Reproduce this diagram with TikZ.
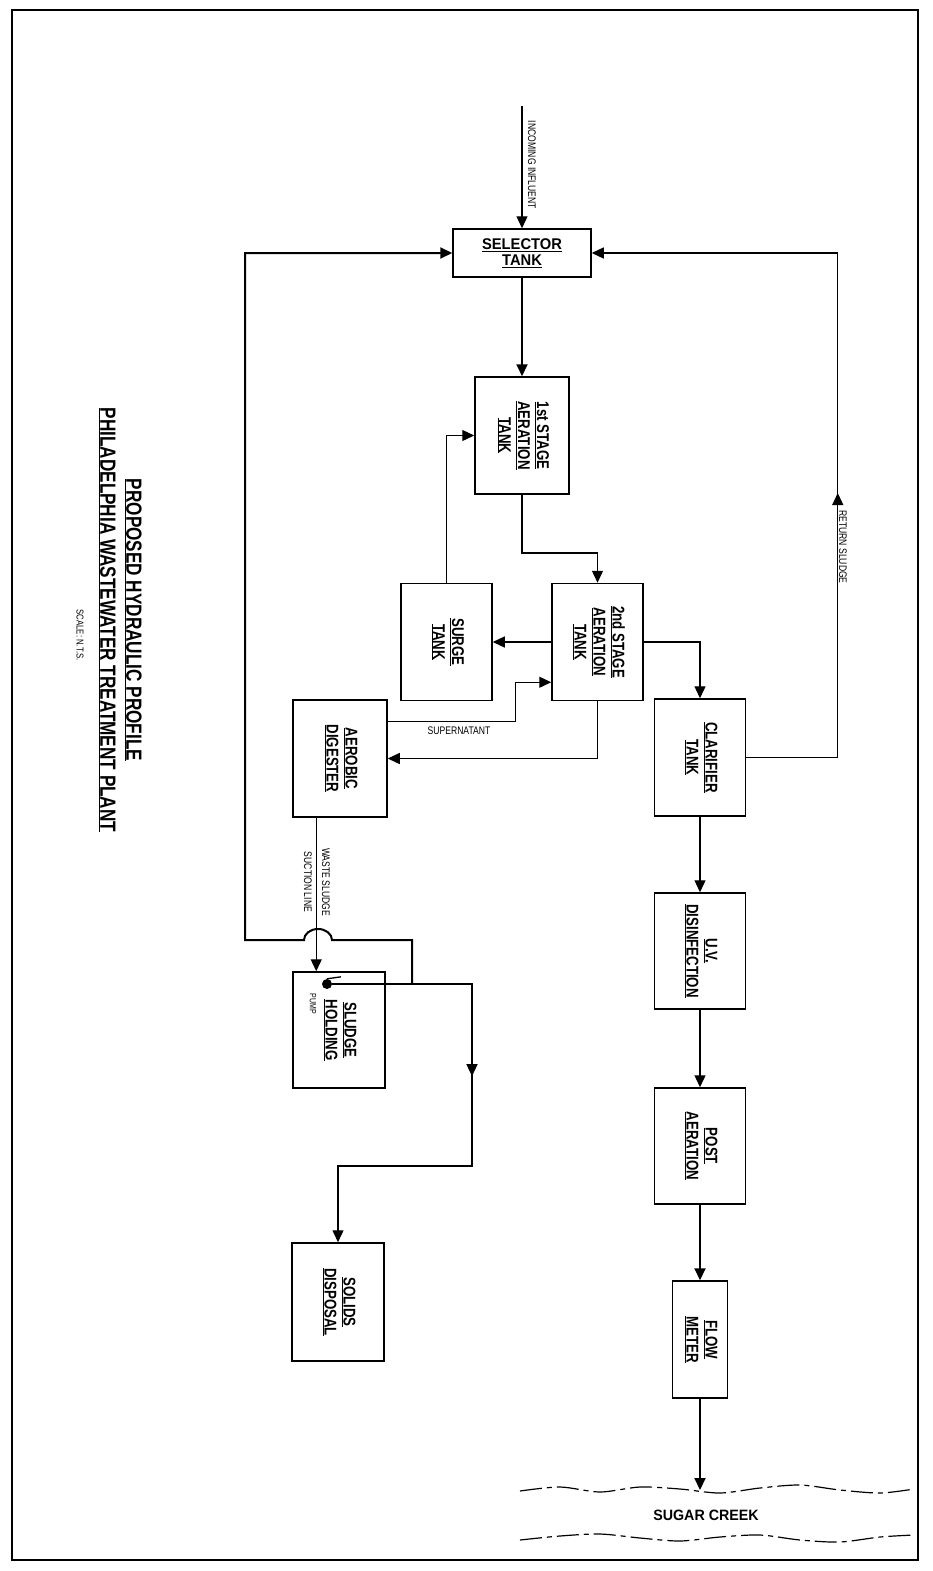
\documentclass[tikz,border=0pt]{standalone}
\usepackage{fontspec}
\setmainfont{Liberation Sans}
\newfontfamily\cad[FakeStretch=0.78]{Liberation Sans}
\newfontfamily\cadw[FakeStretch=0.95]{Liberation Sans}
\usetikzlibrary{arrows.meta,calc,decorations.markings}
\newcommand{\vlab}[1]{\rotatebox{-90}{\cad\bfseries\fontsize{17}{19}\selectfont\begin{tabular}{@{}c@{}}#1\end{tabular}}}
\newcommand{\rlab}[1]{\rotatebox{-90}{#1}}
\begin{document}
\begin{tikzpicture}[x=1pt,y=-1pt,
  box/.style={draw, line width=1.5pt, inner sep=0pt, align=center},
  conn/.style={line width=1.3pt},
  thk/.style={line width=2pt},
  arr/.style={-{Triangle[length=12pt,width=11pt]}},
  lab/.style={font=\cad\fontsize{11}{12}\selectfont, inner sep=0pt},
  midarrow/.style={postaction={decorate}, decoration={markings, mark=at position #1 with {\arrow{Triangle[length=12pt,width=11pt]}}}},
  wave/.style={line width=1.2pt, dash pattern=on 22pt off 5pt on 5pt off 5pt}]
\useasboundingbox (0,0) rectangle (932,1571);
\draw[line width=1.5pt] (12,10) rectangle (918,1560);

% title
\node[inner sep=0pt, font=\cad\bfseries\fontsize{22}{24}\selectfont] (t1) at (133,620) {\rlab{\underline{PROPOSED HYDRAULIC PROFILE}}};
\node[inner sep=0pt, font=\cad\bfseries\fontsize{22}{24}\selectfont] (t2) at (107,620) {\rlab{\underline{PHILADELPHIA WASTEWATER TREATMENT PLANT}}};
\node[inner sep=0pt, font=\cad\fontsize{10}{11}\selectfont] (t3) at (80,635) {\rlab{SCALE: N.T.S.}};

% boxes
\node[box, minimum width=138pt, minimum height=48pt, font=\cadw\bfseries\fontsize{15.5}{16}\selectfont] (sel) at (522,253) {\underline{SELECTOR}\\\underline{TANK}};
\node[box, minimum width=94pt, minimum height=117pt] (st1) at (522,435.5) {\vlab{\underline{1st STAGE}\\\underline{AERATION}\\\underline{TANK}}};
\node[box, minimum width=91pt, minimum height=117pt] (st2) at (597.5,642) {\vlab{\underline{2nd STAGE}\\\underline{AERATION}\\\underline{TANK}}};
\node[box, minimum width=91pt, minimum height=117pt] (surge) at (446.5,642) {\vlab{\underline{SURGE}\\\underline{TANK}}};
\node[box, minimum width=94pt, minimum height=117pt] (dig) at (340,758.5) {\vlab{\underline{AEROBIC}\\\underline{DIGESTER}}};
\node[box, minimum width=91pt, minimum height=117pt] (clar) at (700,757.5) {\vlab{\underline{CLARIFIER}\\\underline{TANK}}};
\node[box, minimum width=91pt, minimum height=116pt] (uv) at (700,951) {\vlab{\underline{U.V.}\\\underline{DISINFECTION}}};
\node[box, minimum width=91pt, minimum height=116pt] (post) at (700,1146) {\vlab{\underline{POST}\\\underline{AERATION}}};
\node[box, minimum width=55pt, minimum height=117pt] (flow) at (700,1339.5) {\vlab{\underline{FLOW}\\\underline{METER}}};
\node[box, minimum width=92pt, minimum height=116pt] (hold) at (339,1030) {\vlab{\underline{SLUDGE}\\\underline{HOLDING}}};
\node[box, minimum width=92pt, minimum height=118pt] (solids) at (338,1302) {\vlab{\underline{SOLIDS}\\\underline{DISPOSAL}}};

% coordinates
\coordinate (infl) at (522,106);
\coordinate (j1) at (560,553);
\coordinate (creek) at (700,1490);
\coordinate (sup1) at ($(dig.north east)+(0,22)$);
\coordinate (sup2) at ($(st2.south west)+(0,-19)$);
\coordinate (ws) at ($(dig.south west)+(24,0)$);
\coordinate (pj) at (472,984);
\coordinate (pk) at (472,1166);
\coordinate (sj) at (412,984);
\coordinate (hopR) at (332,940);
\coordinate (lc) at (245,940);

% pump
\node[circle, fill, inner sep=0pt, minimum size=10pt] (pump) at (327,984) {};
\draw[line width=1.3pt] (pump.north) -- ++(14,-2);
\node[lab, font=\cad\fontsize{9}{10}\selectfont] (pumpl) at (313,1004) {\rlab{PUMP}};

% connectors
\draw[conn,arr] (infl) -- (sel.north);
\node[lab] (infll) at (532,165) {\rlab{INCOMING INFLUENT}};
\draw[thk,arr] (sel.south) -- (st1.north);
\draw[conn,arr] (st1.south) |- (j1) -| (st2.north);
\draw[conn,arr] (st2.west) -- (surge.east);
\draw[conn,arr] (surge.north) |- (st1.west);
\draw[conn,arr] (st2.east) -| (clar.north);
\draw[conn,arr] (st2.south) |- (dig.east);
\draw[conn,arr] (sup1) -- ++(128,0) |- (sup2);
\node[lab] (supl) at (459,731) {SUPERNATANT};
\draw[conn,arr,midarrow=356pt] (clar.east) -- ++(91.5,0) |- (sel.east);
\node[lab] (rsl) at (843,547) {\rlab{RETURN SLUDGE}};
\draw[conn,arr] (clar.south) -- (uv.north);
\draw[conn,arr] (uv.south) -- (post.north);
\draw[thk,arr] (post.south) -- (flow.north);
\draw[thk,arr] (flow.south) -- (creek);

\draw[conn,arr] (ws) -- (ws |- hold.north);
\node[lab] (wsl1) at (326,882) {\rlab{WASTE SLUDGE}};
\node[lab] (wsl2) at (308,882) {\rlab{SUCTION LINE}};
\draw[conn,arr,midarrow=232pt] (pump.east) -- (pj) -- (pk) -| (solids.north);
\draw[thk,arr] (sj) |- (hopR) arc[start angle=0, end angle=-180, x radius=14, y radius=11] -- (lc) |- (sel.west);

% creek
\draw[wave] plot[smooth] coordinates {(520,1491) (560,1487) (600,1492) (640,1487) (680,1489) (720,1493) (760,1488) (800,1485) (840,1490) (880,1493) (914,1489)};
\draw[wave] plot[smooth] coordinates {(520,1540) (560,1536) (600,1534) (640,1538) (680,1541) (720,1537) (760,1535) (800,1540) (840,1542) (880,1537) (914,1535)};
\node[inner sep=0pt, font=\cadw\bfseries\fontsize{15}{16}\selectfont] (creekl) at (706,1515) {SUGAR CREEK};
\end{tikzpicture}
\end{document}
